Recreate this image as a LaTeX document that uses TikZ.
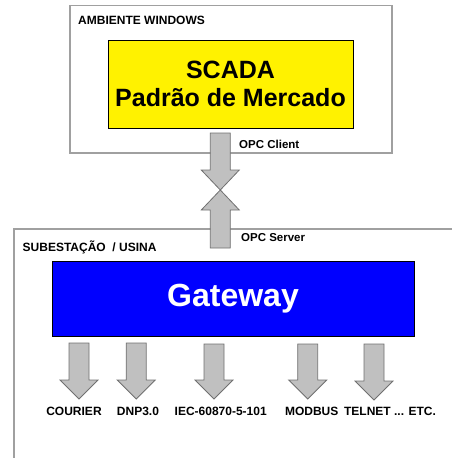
\documentclass[tikz,border=0pt]{standalone}
\usepackage{fontspec}
\setmainfont{Liberation Sans}
\definecolor{frame}{HTML}{A0A0A0}
\definecolor{arrfill}{HTML}{C0C0C0}
\definecolor{arrline}{HTML}{707070}
\newcommand\blkdown[4]{% x, top, head base, tip
  \draw[blkarrow] (#1-10,#2) -- (#1+10,#2) -- (#1+10,#3) -- (#1+19,#3) -- (#1,#4) -- (#1-19,#3) -- (#1-10,#3) -- cycle;}
\newcommand\blkup[4]{% x, bottom, head base, tip
  \draw[blkarrow] (#1-10,#2) -- (#1+10,#2) -- (#1+10,#3) -- (#1+19,#3) -- (#1,#4) -- (#1-19,#3) -- (#1-10,#3) -- cycle;}
\begin{document}
\begin{tikzpicture}[x=1pt,y=-1pt,
  framebox/.style={draw=frame,line width=1.5pt},
  blkarrow/.style={fill=arrfill,draw=arrline,line width=0.8pt,line join=miter},
  lbl/.style={font=\fontsize{11.5}{13}\selectfont\bfseries,inner sep=0pt},
  tlbl/.style={font=\fontsize{12}{14}\selectfont\bfseries,inner sep=0pt},
  plbl/.style={font=\fontsize{12}{14}\selectfont\bfseries,inner sep=0pt}]
\useasboundingbox (0,0) rectangle (451,461);
% frames
\draw[framebox] (70,5.5) rectangle (392,153);
\draw[framebox] (452,229) -- (14,229) -- (14,458);
\node[tlbl,anchor=west] (amb) at (78,20) {AMBIENTE WINDOWS};
\node[tlbl,anchor=west] (sub) at (22.5,247) {SUBESTAÇÃO\ \ / USINA};
% SCADA
\node[draw=black,fill=yellow,line width=1pt,minimum width=245pt,minimum height=88pt,inner sep=0pt,
  align=center,font=\fontsize{25}{28}\selectfont\bfseries] (scada) at (230.5,84) {SCADA\\Padrão de Mercado};
% Gateway
\node[draw=black,fill=blue,line width=1pt,minimum width=362pt,minimum height=75pt,inner sep=0pt,
  text=white,font=\fontsize{32}{34}\selectfont\bfseries] (gw) at (233,299) {Gateway};
% OPC arrows
\blkdown{220.3}{133}{170}{190}
\blkup{220.3}{248}{210}{190}
\node[lbl,anchor=west] (cli) at (239,144) {OPC Client};
\node[lbl,anchor=west] (srv) at (241,238) {OPC Server};
% protocol arrows
\blkdown{79}{343}{380}{399}
\blkdown{136.2}{343}{380}{399}
\blkdown{214}{344}{380}{399}
\blkdown{307.7}{344}{380}{399}
\blkdown{374}{344}{381}{400}
\node[plbl] (p1) at (74,411) {COURIER};
\node[plbl] (p2) at (138,411) {DNP3.0};
\node[plbl] (p3) at (220.7,411) {IEC-60870-5-101};
\node[plbl] (p4) at (311.7,411) {MODBUS};
\node[plbl] (p5) at (390,411) {TELNET ... ETC.};
\end{tikzpicture}
\end{document}
